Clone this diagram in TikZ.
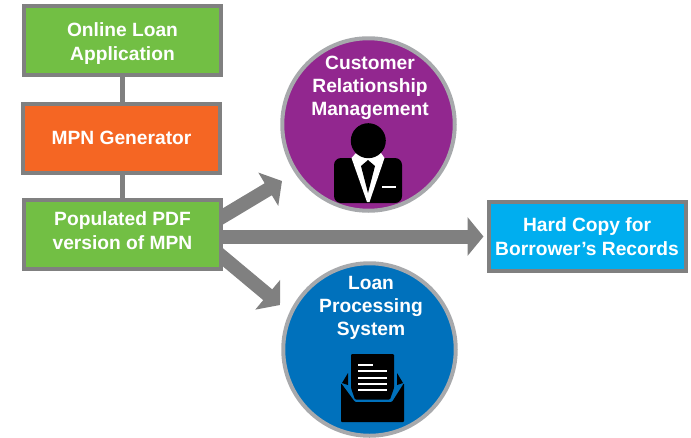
\documentclass[tikz,border=0pt]{standalone}
\usepackage{fontspec}
\setmainfont{Liberation Sans}
\usetikzlibrary{positioning}
\usetikzlibrary{arrows.meta}
\usetikzlibrary{backgrounds}
\definecolor{boxgreen}{HTML}{72BF44}
\definecolor{boxorange}{HTML}{F56623}
\definecolor{boxblue}{HTML}{00AEEF}
\definecolor{crmpurple}{HTML}{92278F}
\definecolor{lpsblue}{HTML}{0071BC}
\definecolor{edgegrey}{HTML}{808080}
\definecolor{ringgrey}{HTML}{A7A9AC}
\begin{document}
\begin{tikzpicture}[
x=1pt, y=-1pt,
labeltext/.style={text=white, font=\bfseries\fontsize{19.2}{23.3}\selectfont, align=center},
squarednode/.style={rectangle, draw=edgegrey, line width=4pt, minimum width=197pt, minimum height=69pt, inner sep=0pt, labeltext},
roundnode/.style={circle, draw=ringgrey, line width=4pt, minimum size=172.5pt, inner sep=0pt},
bigarrow/.style={draw=edgegrey, line width=14pt, -{Triangle[length=16pt, width=38pt]}},
]
\useasboundingbox (0,0) rectangle (691,437);
\clip (0,0) rectangle (691,437);

%Nodes
\node[squarednode, fill=boxgreen, text height=43pt] (app) at (122.5,40.5) {Online Loan\\Application};
\node[squarednode, fill=boxorange] (mpn) [below=24.5pt of app, xshift=-1pt] {MPN Generator};
\node[squarednode, fill=boxgreen, text depth=8pt]   (pdf) [below=23.5pt of mpn, xshift=1pt] {Populated PDF\\version of MPN};
\node[squarednode, fill=boxblue]   (hard) at (587,236.5) {Hard Copy for\\Borrower’s Records};
\node[roundnode, fill=crmpurple]   (crm) at (368.5,124.5) {};
\node[roundnode, fill=lpsblue]     (lps) at (369.5,349.5) {};
\node[labeltext] (crmlabel) at (370,88) {Customer\\Relationship\\Management};
\node[labeltext] (lpslabel) at (371,308) {Loan\\Processing\\System};

%Lines
\draw[edgegrey, line width=5pt] (app.south) -- (app.south |- mpn.north);
\draw[edgegrey, line width=5pt] (pdf.north |- mpn.south) -- (pdf.north);
\coordinate (crmtip) at (282,181);
\coordinate (lpstip) at (280,305);
\begin{pgfonlayer}{background}
\draw[bigarrow] ([xshift=-19pt, yshift=6.8pt]pdf.east) -- (crmtip);
\draw[bigarrow, shorten >=3pt] (pdf.east |- hard.west) -- (hard.west);
\draw[bigarrow] ([xshift=-19pt, yshift=-7pt]pdf.east) -- (lpstip);
\end{pgfonlayer}

%Person
\fill[black, rounded corners=7pt] (334,158) rectangle (402,203);
\fill[white] (351.5,158) -- (356,153) -- (381,153) -- (384.5,158) -- (369.5,202) -- (367,202) -- cycle;
\fill[black] (368,160) -- (375,166) -- (368,193) -- (361,166) -- cycle;
\fill[black] (368.3,140.7) circle (17.5);
\fill[white] (382,185.5) rectangle (396,188);

%Envelope
\fill[black, rounded corners=1pt] (341,383) -- (355,402) -- (392,402) -- (404,383) -- (404,422) -- (341,422) -- cycle;
\fill[black] (348,373) -- (348,385) -- (342,383) -- cycle;
\fill[black] (397,373) -- (397,385) -- (403,383) -- cycle;
\fill[black, rounded corners=1pt] (351,354) -- (394,354) -- (394,388) -- (390,399.5) -- (355,399.5) -- (351,388) -- cycle;
\fill[white] (358,364) rectangle (373,366.2);
\foreach \y in {371.3,377.7,383.7,390} {
  \fill[white] (358,\y-1.1) rectangle (387,\y+1.1);
}
\end{tikzpicture}
\end{document}
